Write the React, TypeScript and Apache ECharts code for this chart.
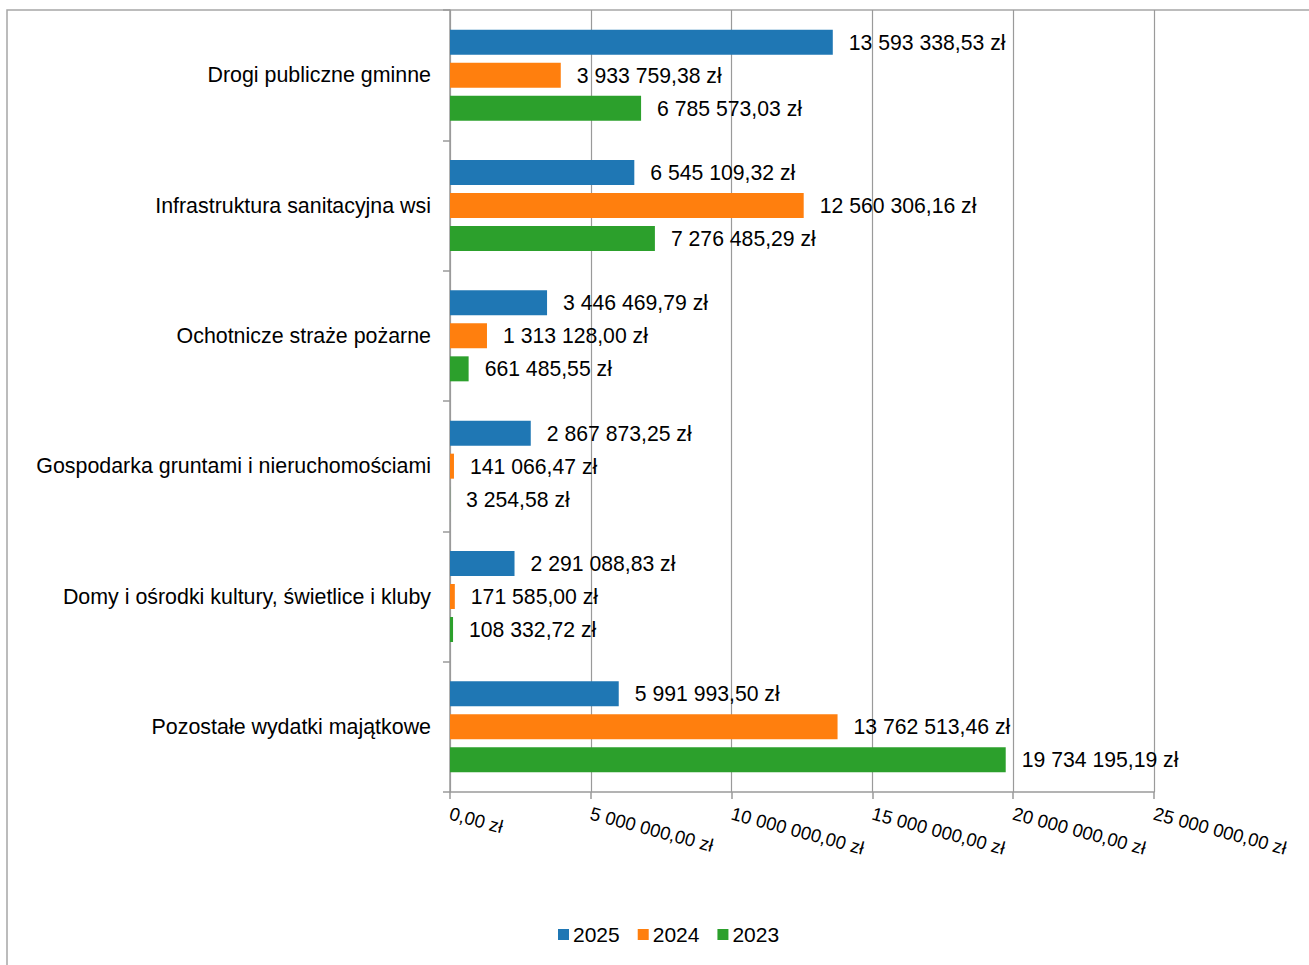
import React, { useEffect, useRef } from "react";
import * as echarts from "echarts";

const categories = [
  "Drogi publiczne gminne",
  "Infrastruktura sanitacyjna wsi",
  "Ochotnicze straże pożarne",
  "Gospodarka gruntami i nieruchomościami",
  "Domy i ośrodki kultury, świetlice i kluby",
  "Pozostałe wydatki majątkowe",
];
const values2025 = [13593338.53, 6545109.32, 3446469.79, 2867873.25, 2291088.83, 5991993.5];
const values2024 = [3933759.38, 12560306.16, 1313128.0, 141066.47, 171585.0, 13762513.46];
const values2023 = [6785573.03, 7276485.29, 661485.55, 3254.58, 108332.72, 19734195.19];
const seriesNames = ["2025", "2024", "2023"];
const colors = ["#1f77b4", "#ff7f0e", "#2ca02c"];

const FONT = "Liberation Sans, Arial, sans-serif";

function fmt(v: number): string {
  const fixed = v.toFixed(2);
  const [intPart, dec] = fixed.split(".");
  const withSep = intPart.replace(/\B(?=(\d{3})+(?!\d))/g, " ");
  return withSep + "," + dec + " zł";
}

export default function App() {
  const ref = useRef<HTMLDivElement>(null);
  useEffect(() => {
    if (!ref.current) return;
    const chart = echarts.init(ref.current, null, { renderer: "svg" });
    const dataSets = [values2025, values2024, values2023];
    chart.setOption({
      animation: false,
      backgroundColor: "#ffffff",
      textStyle: { fontFamily: FONT },
      grid: { left: 450, right: 155, top: 10, bottom: 173, containLabel: false },
      legend: {
        data: seriesNames,
        left: 553,
        top: 919,
        icon: "rect",
        itemWidth: 11,
        itemHeight: 11,
        itemGap: 18,
        textStyle: { fontFamily: FONT, fontSize: 21, color: "#000", padding: [0, 0, 0, -1] },
      },
      graphic: [
        {
          type: "rect",
          shape: { x: 7, y: 10, width: 1400, height: 1100 },
          style: { fill: "none", stroke: "#a6a6a6", lineWidth: 1.5 },
          silent: true,
          z: 0,
        },
      ],
      xAxis: {
        type: "value",
        min: 0,
        max: 25000000,
        interval: 5000000,
        axisLine: { show: true, lineStyle: { color: "#9a9a9a", width: 1.5 } },
        axisTick: { show: true, length: 7, lineStyle: { color: "#9a9a9a", width: 1.5 } },
        splitLine: { show: true, lineStyle: { color: "#9a9a9a", width: 1.2 } },
        axisLabel: {
          rotate: -15,
          margin: 21,
          fontSize: 18.5,
          color: "#000",
          fontFamily: FONT,
          formatter: (v: number) => fmt(v),
        },
      },
      yAxis: {
        type: "category",
        inverse: true,
        data: categories,
        axisLine: { show: true, lineStyle: { color: "#9a9a9a", width: 1.5 } },
        axisTick: { show: true, length: 7, lineStyle: { color: "#9a9a9a", width: 1.5 } },
        axisLabel: { margin: 19, fontSize: 21.4, color: "#000", fontFamily: FONT },
      },
      series: seriesNames.map((name, i) => ({
        name,
        type: "bar",
        data: dataSets[i],
        barWidth: 25,
        barGap: "32%",
        itemStyle: { color: colors[i] },
        label: {
          show: true,
          position: "right",
          distance: 16,
          fontSize: 21.2,
          color: "#000",
          fontFamily: FONT,
          formatter: (p: any) => fmt(p.value),
        },
      })),
    });
    return () => chart.dispose();
  }, []);
  return (
    <div
      ref={ref}
      style={{ position: "fixed", left: 0, top: 0, width: 1309, height: 965 }}
    />
  );
}
